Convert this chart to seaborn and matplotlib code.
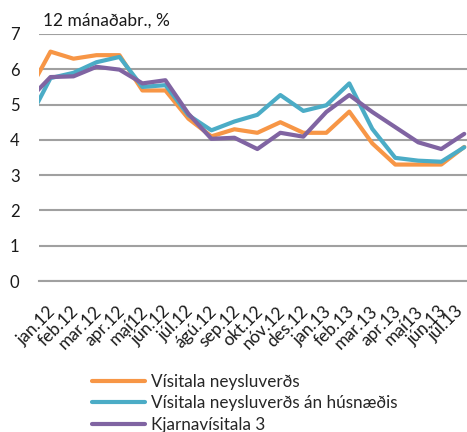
import matplotlib
matplotlib.use("Agg")
import matplotlib.pyplot as plt
import matplotlib.transforms as mtransforms
import seaborn as sns
import pandas as pd
from matplotlib.ticker import FixedLocator

# Months (the first value, des.11, lies just left of the visible axis)
months = ["des.11", "jan.12", "feb.12", "mar.12", "apr.12", "maí12", "jún.12", "júl.12",
          "ágú.12", "sep.12", "okt.12", "nóv.12", "des.12", "jan.13", "feb.13",
          "mar.13", "apr.13", "maí13", "jún.13", "júl.13"]

visitala = [5.3, 6.5, 6.3, 6.4, 6.4, 5.4, 5.4, 4.6, 4.1, 4.3, 4.2, 4.5, 4.2, 4.2, 4.8,
            3.9, 3.3, 3.3, 3.3, 3.8]
an_husnaedis = [4.5, 5.75, 5.9, 6.2, 6.35, 5.5, 5.55, 4.7, 4.27, 4.52, 4.71, 5.27, 4.82,
                4.98, 5.6, 4.31, 3.49, 3.41, 3.38, 3.79]
kjarna3 = [5.1, 5.78, 5.8, 6.07, 5.99, 5.6, 5.69, 4.74, 4.03, 4.06, 3.74, 4.2, 4.09, 4.79,
           5.27, 4.79, 4.36, 3.93, 3.74, 4.17]

series_names = ["Vísitala neysluverðs", "Vísitala neysluverðs án húsnæðis", "Kjarnavísitala 3"]
colors = ["#F79646", "#4BACC6", "#8064A2"]

rows = []
for name, vals in zip(series_names, [visitala, an_husnaedis, kjarna3]):
    for i, v in enumerate(vals):
        rows.append({"x": i - 1, "month": months[i], "value": v, "series": name})
df = pd.DataFrame(rows)

sns.set_theme(style="white")
font = "Lato"
plt.rcParams["font.family"] = [font, "DejaVu Sans"]

W, H = 467, 432
fig = plt.figure(figsize=(W / 100, H / 100), dpi=100)
ax = fig.add_axes([39 / W, (H - 281) / H, (W - 39) / W, (281 - 34) / H])

sns.lineplot(data=df, x="x", y="value", hue="series", hue_order=series_names,
             palette=colors, linewidth=3.0, ax=ax, legend=True, sort=False)

ax.set_xlim(-0.5, 18.12)
ax.set_ylim(0, 7)
ax.set_xlabel("")
ax.set_ylabel("")

# grid
ax.set_yticks(range(0, 8))
ax.yaxis.grid(True, color="#a0a0a0", linewidth=1.5)
ax.xaxis.grid(False)
ax.set_axisbelow(True)
for s in ["top", "right", "left"]:
    ax.spines[s].set_visible(False)
ax.spines["bottom"].set_color("#a0a0a0")
ax.spines["bottom"].set_linewidth(1.5)

ax.tick_params(axis="y", length=0, pad=14, labelsize=12, labelcolor="#1a1a1a")
ax.set_yticklabels([str(v) for v in range(0, 8)])

vis_months = months[1:]
ax.xaxis.set_major_locator(FixedLocator(list(range(len(vis_months)))))
ax.set_xticklabels(vis_months, rotation=45, ha="right", rotation_mode="anchor",
                   fontsize=12.5, color="#1a1a1a")
ax.tick_params(axis="x", which="major", length=0, pad=16)
xlabels = ax.get_xticklabels()
for i, lbl in enumerate(xlabels):
    dx = -3.0 if i < len(xlabels) - 1 else -9.0
    lbl.set_transform(lbl.get_transform() +
                      mtransforms.ScaledTranslation(dx / 100, 0, fig.dpi_scale_trans))
ax.xaxis.set_minor_locator(FixedLocator([k - 0.5 for k in range(len(vis_months) + 1)]))
ax.tick_params(axis="x", which="minor", length=5, width=1.5, color="#a0a0a0", direction="out")

fig.text(43 / W, 1 - 21 / H, "12 mánaðabr., %", fontsize=12.5, va="center", ha="left",
         color="#1a1a1a")

handles, labels = ax.get_legend_handles_labels()
ax.legend_.remove()
for h in handles:
    h.set_linewidth(3.0)
fig.legend(handles, labels, loc="upper left", bbox_to_anchor=(92 / W, 1 - 374 / H),
           frameon=False, fontsize=12.3, handlelength=3.1, handletextpad=0.35,
           labelspacing=0.32, borderpad=0, borderaxespad=0)

fig.savefig("out.png", dpi=100)
